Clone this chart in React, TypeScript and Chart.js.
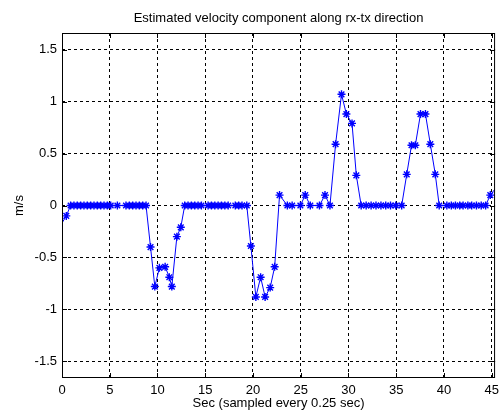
import React, { useEffect, useRef } from "react";
import { Chart, registerables } from "chart.js";

Chart.register(...registerables);

const TITLE = "Estimated velocity component along rx-tx direction";
const X_LABEL = "Sec (sampled every 0.25 sec)";
const Y_LABEL = "m/s";

const X_TICKS = [0, 5, 10, 15, 20, 25, 30, 35, 40, 45];
const Y_TICKS = [-1.5, -1, -0.5, 0, 0.5, 1, 1.5];

const TIME = [
  -0.4, 0.45, 0.9, 1.25, 1.6, 1.95, 2.3, 2.65, 3.0, 3.35, 3.7, 4.05, 4.4, 4.75, 5.1,
  5.8, 6.7, 7.05, 7.4, 7.75, 8.1, 8.45, 8.8,
  9.27, 9.72, 10.2, 10.8, 11.24, 11.5, 12.03, 12.44,
  12.85, 13.2, 13.55, 13.9, 14.25, 14.6, 15.3, 15.65, 16.0, 16.35, 16.7, 17.05, 17.4,
  18.15, 18.5, 18.85, 19.35,
  19.78, 20.3, 20.8, 21.27, 21.8, 22.27, 22.78,
  23.6, 24.1, 24.96, 25.47, 26.0, 26.96, 27.54, 28.06,
  28.65, 29.27, 29.78, 30.37, 30.82, 31.33,
  31.85, 32.37, 32.88, 33.4, 33.9, 34.4, 34.95, 35.57,
  36.1, 36.6, 37.0, 37.54, 38.06, 38.57, 39.09, 39.5,
  40.3, 40.77, 41.2, 41.65, 42.0, 42.5, 42.9, 43.4, 43.9, 44.36, 44.85, 45.7,
];

const VELOCITY = [
  -0.23, -0.1, 0, 0, 0, 0, 0, 0, 0, 0, 0, 0, 0, 0, 0,
  0, 0, 0, 0, 0, 0, 0, 0,
  -0.4, -0.78, -0.6, -0.59, -0.69, -0.78, -0.3, -0.21,
  0, 0, 0, 0, 0, 0, 0, 0, 0, 0, 0, 0, 0,
  0, 0, 0, 0,
  -0.39, -0.88, -0.69, -0.88, -0.79, -0.59, 0.1,
  0, 0, 0, 0.1, 0, 0, 0.1, 0,
  0.59, 1.07, 0.88, 0.79, 0.29, 0,
  0, 0, 0, 0, 0, 0, 0, 0,
  0.3, 0.58, 0.58, 0.88, 0.88, 0.59, 0.3, 0,
  0, 0, 0, 0, 0, 0, 0, 0, 0, 0, 0.1, 0.2,
];

const FONT_FAMILY = "'Liberation Sans', Arial, sans-serif";

const framePlugin = {
  id: "matlabFrame",
  afterDatasetsDraw(chart: any) {
    const { ctx, chartArea, scales } = chart;
    const { left, right, top, bottom } = chartArea;
    const xs = scales.x;
    const ys = scales.y;
    ctx.save();
    ctx.strokeStyle = "#000";
    ctx.lineWidth = 1;
    ctx.setLineDash([]);
    ctx.strokeRect(left + 0.5, top + 0.5, right - left - 1, bottom - top - 1);
    const tl = 5;
    ctx.beginPath();
    for (const v of X_TICKS) {
      const p = Math.round(xs.getPixelForValue(v)) + 0.5;
      ctx.moveTo(p, top);
      ctx.lineTo(p, top + tl);
      ctx.moveTo(p, bottom);
      ctx.lineTo(p, bottom - tl);
    }
    for (const v of Y_TICKS) {
      const p = Math.round(ys.getPixelForValue(v)) + 0.5;
      ctx.moveTo(left, p);
      ctx.lineTo(left + tl, p);
      ctx.moveTo(right, p);
      ctx.lineTo(right - tl, p);
    }
    ctx.stroke();
    ctx.restore();
  },
  afterDraw(chart: any) {
    const { ctx, chartArea } = chart;
    const { left, right, top, bottom } = chartArea;
    const cx = (left + right) / 2;
    ctx.save();
    ctx.fillStyle = "#000";
    ctx.font = `13px ${FONT_FAMILY}`;
    ctx.textAlign = "center";
    ctx.textBaseline = "middle";
    ctx.fillText(TITLE, cx, 18);
    ctx.fillText(X_LABEL, cx, 403);
    ctx.translate(19, (top + bottom) / 2);
    ctx.rotate(-Math.PI / 2);
    ctx.fillText(Y_LABEL, 0, 0);
    ctx.restore();
  },
};

export default function App() {
  const canvasRef = useRef<HTMLCanvasElement | null>(null);

  useEffect(() => {
    const canvas = canvasRef.current;
    if (!canvas) return;
    const points = TIME.map((t, i) => ({ x: t, y: VELOCITY[i] }));
    const tickFont = { family: FONT_FAMILY, size: 13 };
    const chart = new Chart(canvas, {
      type: "line",
      data: {
        datasets: [
          {
            data: points,
            borderColor: "#0000ff",
            borderWidth: 1,
            backgroundColor: "#0000ff",
            pointStyle: "star",
            pointRadius: 4,
            pointBorderWidth: 1.4,
            pointBorderColor: "#0000ff",
            pointBackgroundColor: "#0000ff",
            tension: 0,
            fill: false,
            clip: 0,
          } as any,
        ],
      },
      options: {
        animation: false,
        responsive: false,
        devicePixelRatio: 1,
        layout: { padding: { top: 33, right: 4, left: 0, bottom: 0 } },
        plugins: {
          legend: { display: false },
          title: { display: false },
          tooltip: { enabled: false },
        },
        scales: {
          x: {
            type: "linear",
            min: 0,
            max: 45.35,
            afterBuildTicks: (s: any) => {
              s.ticks = X_TICKS.map((v) => ({ value: v }));
            },
            afterFit: (s: any) => {
              s.height = 36;
            },
            grid: { color: "#000", lineWidth: 1, drawTicks: false, borderDash: [3, 3] } as any,
            border: { display: false, dash: [3, 3] },
            ticks: {
              padding: 5,
              color: "#000",
              font: tickFont,
              maxRotation: 0,
              autoSkip: false,
              callback: (v: any) => String(v),
            },
          },
          y: {
            type: "linear",
            min: -1.66,
            max: 1.66,
            afterBuildTicks: (s: any) => {
              s.ticks = Y_TICKS.map((v) => ({ value: v }));
            },
            afterFit: (s: any) => {
              s.width = 62;
            },
            grid: { color: "#000", lineWidth: 1, drawTicks: false, borderDash: [3, 3] } as any,
            border: { display: false, dash: [3, 3] },
            ticks: {
              padding: 5,
              color: "#000",
              font: tickFont,
              autoSkip: false,
              callback: (v: any) => String(v),
            },
          },
        },
      },
      plugins: [framePlugin],
    });
    return () => chart.destroy();
  }, []);

  return (
    <div style={{ position: "absolute", left: 0, top: 0, width: 504, height: 414, background: "#fff" }}>
      <canvas ref={canvasRef} width={504} height={414} style={{ display: "block" }} />
    </div>
  );
}
